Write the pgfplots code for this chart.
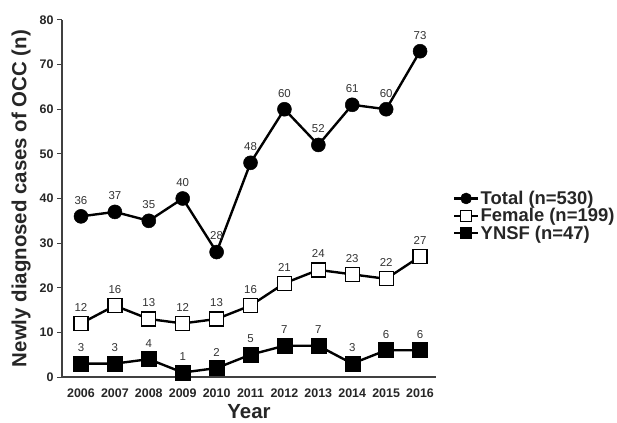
\documentclass[border=0pt]{standalone}
\usepackage{fontspec}
\setmainfont{Liberation Sans}
\usepackage{pgfplots}
\pgfplotsset{compat=1.18}
\begin{document}
\begin{tikzpicture}[x=1bp,y=1bp]
\path[use as bounding box] (-62bp,-46bp) rectangle (555bp,377bp);
\begin{axis}[
  at={(0,0)}, anchor=south west,
  scale only axis, width=374bp, height=357bp,
  xmin=2005.44, xmax=2016.47, ymin=0, ymax=80,
  axis x line*=bottom, axis y line*=left,
  axis line style={line width=1.1pt, black!75, -},
  xtick={2006,...,2016},
  ytick={0,10,...,80},
  xtick style={draw=none},
  ytick style={line width=1pt, black!75},
  tick align=outside, major tick length=5bp,
  /pgf/number format/1000 sep={},
  /pgf/number format/assume math mode=true,
  tick label style={font=\bfseries\fontsize{12.5}{14}\selectfont, text=black!85},
  xticklabel style={yshift=-3bp},
  xlabel={Year}, ylabel={Newly diagnosed cases of OCC (n)},
  label style={font=\bfseries\fontsize{20.5}{22}\selectfont, text=black!85},
  xlabel style={yshift=0bp},
  ylabel style={yshift=2bp},
  nodes near coords,
  every node near coord/.append style={font=\fontsize{11.5}{12}\selectfont, anchor=center, yshift=16bp, text=black!80},
  legend style={at={(1.045,0.527)}, anchor=north west, draw=none, fill=none,
    font=\bfseries\fontsize{18.5}{20}\selectfont, row sep=-1.5bp, inner sep=0pt,
    nodes={inner xsep=1.5bp, text=black!85}},
  legend cell align=left,
  legend image code/.code={\draw[mark repeat=2,mark phase=2] plot coordinates {(0cm,0cm) (0.42cm,0cm) (0.84cm,0cm)};},
  legend image post style={mark size=5.5bp},
  clip=false,
]
\addplot[black, line width=2.4pt, mark=*, mark size=7bp, mark options={line width=0.5pt}] coordinates {
 (2006,36) (2007,37) (2008,35) (2009,40) (2010,28) (2011,48) (2012,60) (2013,52) (2014,61) (2015,60) (2016,73)};
\addlegendentry{Total (n=530)}
\addplot[black, line width=2.4pt, mark=square*, mark size=7bp, mark options={fill=white, line width=1.3pt}] coordinates {
 (2006,12) (2007,16) (2008,13) (2009,12) (2010,13) (2011,16) (2012,21) (2013,24) (2014,23) (2015,22) (2016,27)};
\addlegendentry{Female (n=199)}
\addplot[black, line width=2.4pt, mark=square*, mark size=7.5bp, mark options={fill=black, line width=0.5pt}] coordinates {
 (2006,3) (2007,3) (2008,4) (2009,1) (2010,2) (2011,5) (2012,7) (2013,7) (2014,3) (2015,6) (2016,6)};
\addlegendentry{YNSF (n=47)}
\end{axis}
\end{tikzpicture}
\end{document}
